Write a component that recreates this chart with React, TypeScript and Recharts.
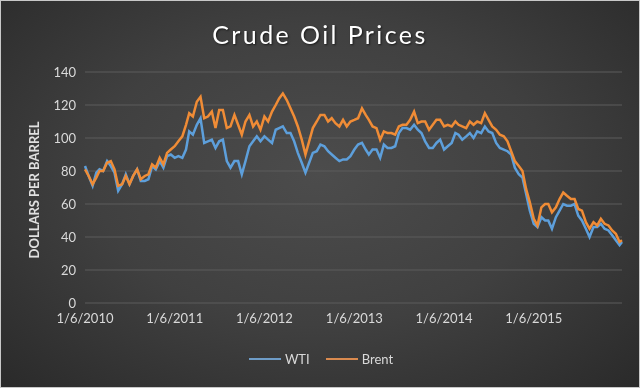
import React from 'react';
import { LineChart, Line, XAxis, YAxis, CartesianGrid } from 'recharts';

const years = [2010, 2011, 2012, 2013, 2014, 2015];
const sampleDays = [6, 21];
const finalDate = '12/31/2015';
const tickLabels = ['1/6/2010', '1/6/2011', '1/6/2012', '1/6/2013', '1/6/2014', '1/6/2015'];
const yTicks = [0, 20, 40, 60, 80, 100, 120, 140];

// values sampled on the 6th and 21st of every month (plus 12/31/2015)
const wti2010 = [83, 77, 71, 79, 81, 80, 86, 83, 79, 68, 72, 78, 72, 77, 81, 74, 74, 75, 83, 81, 86, 82, 89, 90];
const wti2011 = [88, 89, 88, 93, 104, 102, 108, 112, 97, 98, 99, 94, 98, 99, 86, 82, 86, 86, 78, 86, 95, 98, 101, 98];
const wti2012 = [101, 99, 97, 105, 106, 107, 103, 103, 98, 91, 85, 79, 85, 91, 92, 96, 95, 92, 90, 88, 86, 87, 87, 89];
const wti2013 = [93, 96, 97, 93, 90, 93, 93, 88, 96, 94, 94, 95, 103, 106, 106, 105, 108, 105, 103, 98, 94, 94, 97, 99];
const wti2014 = [93, 95, 97, 103, 102, 99, 101, 103, 100, 104, 103, 107, 104, 103, 97, 94, 93, 92, 90, 82, 78, 76, 66, 56];
const wti2015 = [48, 46, 52, 50, 50, 45, 52, 56, 60, 59, 59, 60, 53, 50, 45, 40, 46, 46, 48, 45, 44, 41, 38, 35, 37];

const brent2010 = [81, 77, 72, 76, 80, 80, 85, 86, 81, 71, 72, 77, 72, 77, 81, 75, 77, 78, 84, 82, 88, 84, 91, 93];
const brent2011 = [95, 98, 101, 108, 115, 113, 122, 125, 112, 113, 116, 106, 117, 117, 106, 107, 114, 108, 102, 110, 114, 107, 110, 105];
const brent2012 = [113, 110, 116, 120, 124, 127, 123, 118, 113, 107, 99, 90, 98, 106, 110, 114, 114, 110, 112, 109, 107, 111, 107, 110];
const brent2013 = [111, 112, 118, 114, 111, 107, 106, 99, 104, 103, 103, 102, 107, 108, 108, 111, 116, 109, 110, 110, 105, 108, 111, 111];
const brent2014 = [107, 108, 107, 110, 108, 107, 106, 110, 108, 110, 109, 115, 111, 107, 105, 102, 101, 98, 92, 86, 83, 80, 69, 61];
const brent2015 = [51, 47, 58, 60, 60, 55, 58, 63, 67, 65, 63, 63, 57, 56, 49, 45, 49, 47, 51, 48, 47, 44, 42, 37, 38];

const wtiByYear = [wti2010, wti2011, wti2012, wti2013, wti2014, wti2015];
const brentByYear = [brent2010, brent2011, brent2012, brent2013, brent2014, brent2015];

const parseDate = (s: string) => {
  const [m, d, y] = s.split('/').map(Number);
  return Date.UTC(y, m - 1, d);
};

const data: { t: number; wti: number; brent: number }[] = [];
years.forEach((y, yi) => {
  for (let m = 0; m < 12; m++) {
    sampleDays.forEach((d, di) => {
      const i = m * sampleDays.length + di;
      data.push({ t: Date.UTC(y, m, d), wti: wtiByYear[yi][i], brent: brentByYear[yi][i] });
    });
  }
});
data.push({ t: parseDate(finalDate), wti: wti2015[24], brent: brent2015[24] });

const tickValues = tickLabels.map(parseDate);
const labelFor = (v: number) => {
  const i = tickValues.indexOf(v);
  return i >= 0 ? tickLabels[i] : '';
};

const WTI_COLOR = '#5D9FDB';
const BRENT_COLOR = '#F08C36';
const FONT = 'Lato, "Open Sans", sans-serif';

export default function App() {
  return (
    <div
      style={{
        position: 'fixed',
        left: 0,
        top: 0,
        width: 640,
        height: 388,
        boxSizing: 'border-box',
        border: '1px solid #c8c8c8',
        background: 'radial-gradient(ellipse at 50% 45%, #4c4c4c 0%, #404040 50%, #2a2a2a 100%)',
        fontFamily: FONT,
        overflow: 'hidden',
      }}
    >
      <div
        style={{
          position: 'absolute',
          left: -1,
          top: 18,
          width: 640,
          textAlign: 'center',
          color: '#ffffff',
          fontSize: 25,
          letterSpacing: 2.4,
          lineHeight: '30px',
          textShadow: '1px 1px 2px rgba(0,0,0,0.6)',
        }}
      >
        Crude Oil Prices
      </div>
      <div
        style={{
          position: 'absolute',
          left: 33,
          top: 189,
          transform: 'translate(-50%, -50%) rotate(-90deg)',
          whiteSpace: 'nowrap',
          color: '#e0e0e0',
          fontSize: 13,
          fontWeight: 700,
        }}
      >
        DOLLARS PER BARREL
      </div>
      <div style={{ position: 'absolute', left: -1, top: -1 }}>
        <LineChart width={640} height={388} data={data} margin={{ top: 72, right: 18, bottom: 55, left: 0 }}>
          <CartesianGrid vertical={false} stroke="#5c5c5c" strokeWidth={1} />
          <XAxis
            dataKey="t"
            type="number"
            domain={['dataMin', 'dataMax']}
            ticks={tickValues}
            tickFormatter={labelFor}
            interval={0}
            axisLine={false}
            tickLine={false}
            tickSize={0}
            tickMargin={11}
            height={30}
            tick={{ fill: '#d9d9d9', fontSize: 13, fontFamily: FONT }}
          />
          <YAxis
            domain={[0, 140]}
            ticks={yTicks}
            interval={0}
            axisLine={false}
            tickLine={false}
            tickSize={0}
            tickMargin={9}
            width={85}
            tick={{ fill: '#d9d9d9', fontSize: 13, fontFamily: FONT }}
          />
          <Line type="linear" dataKey="wti" stroke={WTI_COLOR} strokeWidth={2.5} dot={false} isAnimationActive={false} />
          <Line type="linear" dataKey="brent" stroke={BRENT_COLOR} strokeWidth={2.5} dot={false} isAnimationActive={false} />
        </LineChart>
      </div>
      <div
        style={{
          position: 'absolute',
          left: 0,
          top: 350,
          width: 640,
          display: 'flex',
          justifyContent: 'center',
          alignItems: 'center',
          color: '#d9d9d9',
          fontSize: 13,
          gap: 4,
        }}
      >
        <span style={{ display: 'inline-block', width: 32, height: 2, background: '#6e9cc7' }} />
        <span style={{ marginRight: 12 }}>WTI</span>
        <span style={{ display: 'inline-block', width: 32, height: 2, background: '#d98a4f' }} />
        <span>Brent</span>
      </div>
    </div>
  );
}
